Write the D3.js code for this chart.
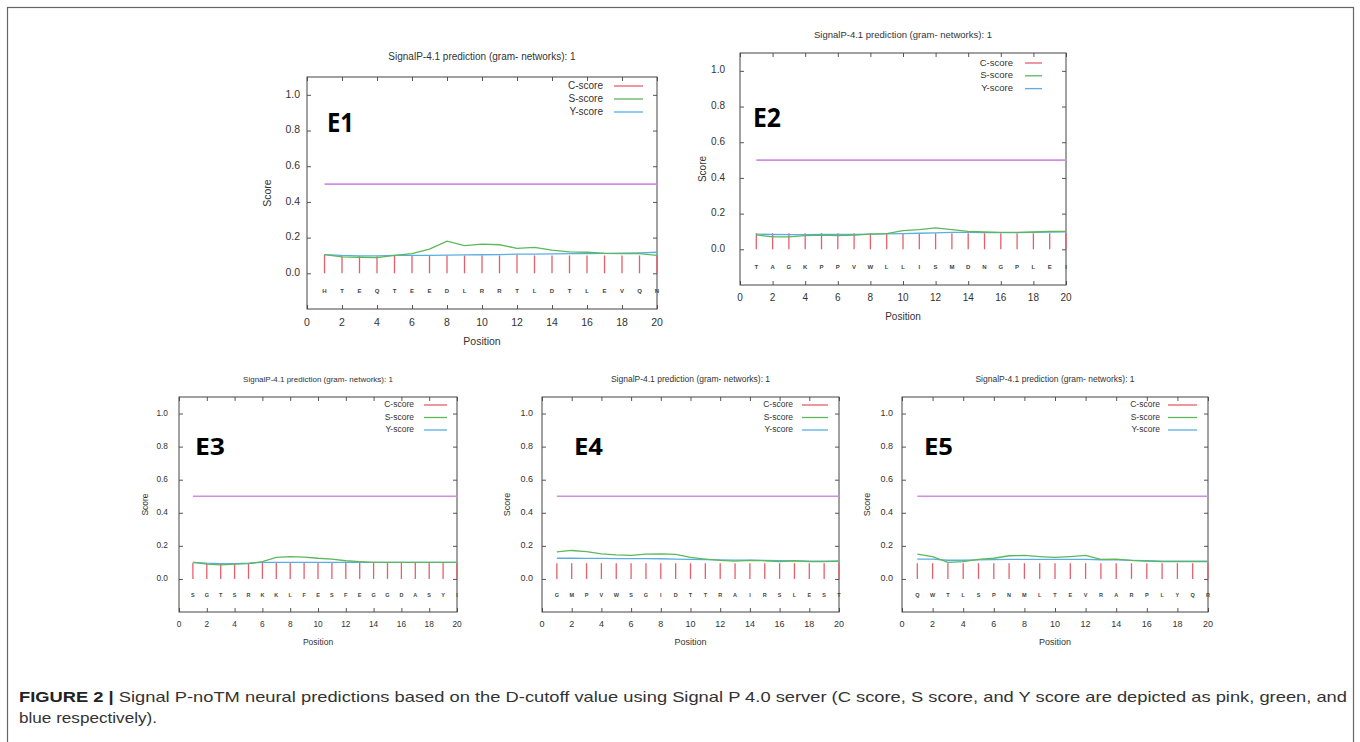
<!DOCTYPE html>
<html>
<head>
<meta charset="utf-8">
<script src="https://cdn.jsdelivr.net/npm/d3@7"></script>
<style>
  html, body { margin: 0; padding: 0; background: #fff; }
  svg { display: block; }
  text { font-family: "Liberation Sans", Arial, sans-serif; }
</style>
</head>
<body>
<svg id="fig" width="1360" height="742"></svg>
<script>
// ---- data: per-residue SignalP scores for five sequences ----
const positions = d3.range(1, 21);
const xTicks = d3.range(0, 21, 2);
const yTicks = [0, 0.2, 0.4, 0.6, 0.8, 1.0];
const cutoff = 0.5;
const panelNames = ["E1", "E2", "E3", "E4", "E5"];
const legendLabels = ["C-score", "S-score", "Y-score"];
const plotTitle = "SignalP-4.1 prediction (gram- networks): 1";

const e1Seq = ["H","T","E","Q","T","E","E","D","L","R","R","T","L","D","T","L","E","V","Q","N"];
const e1C = [0.105,0.095,0.095,0.095,0.1,0.1,0.1,0.1,0.1,0.1,0.1,0.105,0.1,0.1,0.1,0.1,0.1,0.1,0.1,0.1];
const e1S = [0.105,0.092,0.09,0.088,0.1,0.11,0.135,0.18,0.155,0.163,0.16,0.14,0.145,0.13,0.12,0.118,0.112,0.11,0.11,0.1];
const e1Y = [0.105,0.1,0.098,0.098,0.1,0.1,0.1,0.102,0.103,0.104,0.105,0.107,0.108,0.109,0.11,0.111,0.112,0.113,0.115,0.118];

const e2Seq = ["T","A","G","K","P","P","V","W","L","L","I","S","M","D","N","G","P","L","E","I"];
const e2C = [0.09,0.09,0.09,0.09,0.09,0.09,0.09,0.09,0.09,0.09,0.09,0.09,0.09,0.09,0.09,0.09,0.09,0.09,0.09,0.09];
const e2S = [0.081,0.07,0.07,0.077,0.08,0.077,0.08,0.085,0.088,0.105,0.11,0.12,0.11,0.1,0.097,0.095,0.095,0.097,0.1,0.1];
const e2Y = [0.085,0.083,0.082,0.082,0.083,0.083,0.083,0.085,0.086,0.088,0.09,0.092,0.095,0.095,0.094,0.093,0.094,0.095,0.097,0.098];

const e3Seq = ["S","G","T","S","R","K","K","L","F","E","S","F","E","G","G","D","A","S","Y","I"];
const e3C = [0.096,0.096,0.096,0.096,0.096,0.096,0.096,0.096,0.096,0.096,0.096,0.096,0.096,0.096,0.096,0.096,0.096,0.096,0.096,0.096];
const e3S = [0.1,0.09,0.085,0.09,0.092,0.105,0.13,0.135,0.132,0.125,0.12,0.11,0.105,0.1,0.1,0.1,0.1,0.1,0.1,0.1];
const e3Y = [0.1,0.095,0.092,0.093,0.095,0.1,0.1,0.1,0.1,0.1,0.1,0.1,0.1,0.1,0.1,0.1,0.1,0.1,0.1,0.1];

const e4Seq = ["G","M","P","V","W","S","G","I","D","T","T","R","A","I","R","S","L","E","S","T"];
const e4C = [0.095,0.095,0.095,0.095,0.095,0.095,0.095,0.095,0.095,0.095,0.095,0.095,0.095,0.095,0.095,0.095,0.095,0.095,0.095,0.095];
const e4S = [0.164,0.172,0.165,0.152,0.145,0.142,0.15,0.152,0.148,0.13,0.12,0.112,0.108,0.112,0.11,0.105,0.11,0.105,0.105,0.108];
const e4Y = [0.125,0.125,0.124,0.124,0.123,0.123,0.123,0.122,0.12,0.118,0.117,0.115,0.114,0.113,0.112,0.11,0.109,0.108,0.107,0.107];

const e5Seq = ["Q","W","T","L","S","P","N","M","L","T","E","V","R","A","R","P","L","Y","Q","R"];
const e5C = [0.095,0.095,0.095,0.095,0.095,0.095,0.095,0.095,0.095,0.095,0.095,0.095,0.095,0.095,0.095,0.095,0.095,0.095,0.095,0.095];
const e5S = [0.15,0.135,0.1,0.105,0.118,0.125,0.14,0.142,0.135,0.13,0.135,0.142,0.118,0.12,0.112,0.108,0.105,0.105,0.105,0.105];
const e5Y = [0.12,0.12,0.113,0.113,0.115,0.117,0.118,0.118,0.118,0.118,0.118,0.118,0.116,0.115,0.112,0.11,0.108,0.107,0.107,0.107];

const captionBold = "FIGURE 2 |";
const captionLine1 = " Signal P-noTM neural predictions based on the D-cutoff value using Signal P 4.0 server (C score, S score, and Y score are depicted as pink, green, and";
const captionLine2 = "blue respectively).";

// ---- styling ----
const colC = "#e4606c", colS = "#5cb85a", colY = "#5aaee2", colCut = "#cf8ee0";
const axisInk = "#444";

// ---- panel layout (frame box, text offsets, sizes) ----
const layout = [
  { l: 307, r: 657, t: 77, b: 309, titleY: 57, titleFs: 10, tickFs: 10.5, yLabGap: 7, xLabY: 323, posY: 342, scoreX: 268,
    legX: 603, legY: 86, legDy: 13, legL0: 614, legL1: 643, legFs: 10, nameX: 327, nameY: 132, nameFs: 26, nameW: 27, seqFs: 6 },
  { l: 740, r: 1066, t: 53, b: 285, titleY: 35, titleFs: 9.5, tickFs: 10, yLabGap: 15, xLabY: 298, posY: 317, scoreX: 703,
    legX: 1013, legY: 63, legDy: 12.8, legL0: 1025, legL1: 1042, legFs: 9.5, nameX: 753, nameY: 127, nameFs: 27, nameW: 28, seqFs: 6 },
  { l: 179, r: 457, t: 397, b: 612, titleY: 380, titleFs: 8, tickFs: 8.3, yLabGap: 11, xLabY: 625, posY: 643, scoreX: 146,
    legX: 414, legY: 405, legDy: 12.5, legL0: 424, legL1: 447, legFs: 8.5, nameX: 195, nameY: 455, nameFs: 24, nameW: 30, seqFs: 5.5 },
  { l: 542, r: 839, t: 397, b: 612, titleY: 380, titleFs: 8.5, tickFs: 9, yLabGap: 9, xLabY: 625, posY: 643, scoreX: 508,
    legX: 793, legY: 405, legDy: 12.5, legL0: 802, legL1: 828, legFs: 8.5, nameX: 574, nameY: 455, nameFs: 24, nameW: 29, seqFs: 5.5 },
  { l: 902, r: 1208, t: 397, b: 612, titleY: 380, titleFs: 8.5, tickFs: 9, yLabGap: 9, xLabY: 625, posY: 643, scoreX: 868,
    legX: 1160, legY: 405, legDy: 12.5, legL0: 1168, legL1: 1197, legFs: 8.5, nameX: 924, nameY: 455, nameFs: 24, nameW: 29, seqFs: 5.5 }
];

const panelData = [
  { seq: e1Seq, c: e1C, s: e1S, y: e1Y },
  { seq: e2Seq, c: e2C, s: e2S, y: e2Y },
  { seq: e3Seq, c: e3C, s: e3S, y: e3Y },
  { seq: e4Seq, c: e4C, s: e4S, y: e4Y },
  { seq: e5Seq, c: e5C, s: e5S, y: e5Y }
];

const svg = d3.select("#fig");

// outer figure frame
svg.append("rect")
  .attr("x", 7.5).attr("y", 7.5).attr("width", 1346).attr("height", 745)
  .attr("fill", "none").attr("stroke", "#666").attr("stroke-width", 1.2);

panelData.forEach((d, i) => drawPanel(d, layout[i], panelNames[i]));

function drawPanel(d, L, name) {
  const g = svg.append("g");
  const x = d3.scaleLinear().domain([0, 20]).range([L.l, L.r]);
  const y = d3.scaleLinear().domain([-0.2, 1.1]).range([L.b, L.t]);

  // title
  g.append("text").attr("x", (L.l + L.r) / 2).attr("y", L.titleY)
    .attr("text-anchor", "middle").attr("dominant-baseline", "middle")
    .attr("font-size", L.titleFs).attr("fill", "#333").text(plotTitle);

  // mirrored inward ticks on all four sides
  const tick = 4;
  const styleAxis = sel => {
    sel.select(".domain").remove();
    sel.selectAll(".tick line").attr("stroke", axisInk).attr("stroke-width", 0.9);
  };
  g.append("g").attr("transform", `translate(0,${L.b})`)
    .call(d3.axisBottom(x).tickValues(xTicks).tickSizeInner(-tick).tickSizeOuter(0).tickFormat(""))
    .call(styleAxis);
  g.append("g").attr("transform", `translate(0,${L.t})`)
    .call(d3.axisTop(x).tickValues(xTicks).tickSizeInner(-tick).tickSizeOuter(0).tickFormat(""))
    .call(styleAxis);
  g.append("g").attr("transform", `translate(${L.l},0)`)
    .call(d3.axisLeft(y).tickValues(yTicks).tickSizeInner(-tick).tickSizeOuter(0).tickFormat(""))
    .call(styleAxis);
  g.append("g").attr("transform", `translate(${L.r},0)`)
    .call(d3.axisRight(y).tickValues(yTicks).tickSizeInner(-tick).tickSizeOuter(0).tickFormat(""))
    .call(styleAxis);

  // tick labels
  g.append("g").selectAll("text").data(xTicks).join("text")
    .attr("x", v => x(v)).attr("y", L.xLabY)
    .attr("text-anchor", "middle").attr("dominant-baseline", "middle")
    .attr("font-size", L.tickFs).attr("fill", "#333").text(v => v);
  g.append("g").selectAll("text").data(yTicks).join("text")
    .attr("x", L.l - L.yLabGap).attr("y", v => y(v))
    .attr("text-anchor", "end").attr("dominant-baseline", "middle")
    .attr("font-size", L.tickFs).attr("fill", "#333").text(v => d3.format(".1f")(v));

  // axis titles
  g.append("text").attr("x", (L.l + L.r) / 2).attr("y", L.posY)
    .attr("text-anchor", "middle").attr("dominant-baseline", "middle")
    .attr("font-size", L.titleFs + 0.5).attr("fill", "#333").text("Position");
  g.append("text")
    .attr("transform", `translate(${L.scoreX},${(L.t + L.b) / 2}) rotate(-90)`)
    .attr("text-anchor", "middle").attr("dominant-baseline", "middle")
    .attr("font-size", L.titleFs + 0.5).attr("fill", "#333").text("Score");

  // plot frame
  g.append("rect").attr("x", L.l).attr("y", L.t)
    .attr("width", L.r - L.l).attr("height", L.b - L.t)
    .attr("fill", "none").attr("stroke", axisInk).attr("stroke-width", 1);

  // D-cutoff line
  g.append("line")
    .attr("x1", x(positions[0])).attr("x2", x(positions[positions.length - 1]))
    .attr("y1", y(cutoff)).attr("y2", y(cutoff))
    .attr("stroke", colCut).attr("stroke-width", 1.6);

  // C-score stems
  g.append("g").selectAll("line").data(positions).join("line")
    .attr("x1", p => x(p)).attr("x2", p => x(p))
    .attr("y1", y(0)).attr("y2", (p, k) => y(d.c[k]))
    .attr("stroke", colC).attr("stroke-width", 1.3);

  // S and Y score traces
  const line = d3.line().x((v, k) => x(positions[k])).y(v => y(v));
  g.append("path").attr("d", line(d.y)).attr("fill", "none")
    .attr("stroke", colY).attr("stroke-width", 1.3);
  g.append("path").attr("d", line(d.s)).attr("fill", "none")
    .attr("stroke", colS).attr("stroke-width", 1.3);

  // residue letters
  g.append("g").selectAll("text").data(d.seq).join("text")
    .attr("x", (aa, k) => x(positions[k])).attr("y", y(-0.1))
    .attr("text-anchor", "middle").attr("dominant-baseline", "middle")
    .attr("font-size", L.seqFs).attr("font-weight", "bold").attr("fill", "#444").text(aa => aa);

  // legend
  const legCols = [colC, colS, colY];
  legendLabels.forEach((lab, k) => {
    const ly = L.legY + k * L.legDy;
    g.append("text").attr("x", L.legX).attr("y", ly)
      .attr("text-anchor", "end").attr("dominant-baseline", "middle")
      .attr("font-size", L.legFs).attr("fill", "#333").text(lab);
    g.append("line").attr("x1", L.legL0).attr("x2", L.legL1)
      .attr("y1", ly).attr("y2", ly).attr("stroke", legCols[k]).attr("stroke-width", 1.3);
  });

  // panel name
  g.append("text").attr("x", L.nameX).attr("y", L.nameY)
    .attr("font-size", L.nameFs).attr("font-weight", "bold").attr("fill", "#000")
    .attr("textLength", L.nameW).attr("lengthAdjust", "spacingAndGlyphs")
    .style("font-family", "'Open Sans', 'Liberation Sans', sans-serif")
    .text(name);
}

// caption
const cap1 = svg.append("text").attr("x", 19).attr("y", 702).attr("font-size", 14.5).attr("fill", "#333");
cap1.append("tspan").attr("font-weight", "bold").attr("fill", "#222").text(captionBold);
cap1.append("tspan").text(captionLine1);
cap1.attr("textLength", 1328).attr("lengthAdjust", "spacingAndGlyphs");
svg.append("text").attr("x", 19).attr("y", 723).attr("font-size", 14.5).attr("fill", "#333")
  .attr("textLength", 138).attr("lengthAdjust", "spacingAndGlyphs")
  .text(captionLine2);
</script>
</body>
</html>
